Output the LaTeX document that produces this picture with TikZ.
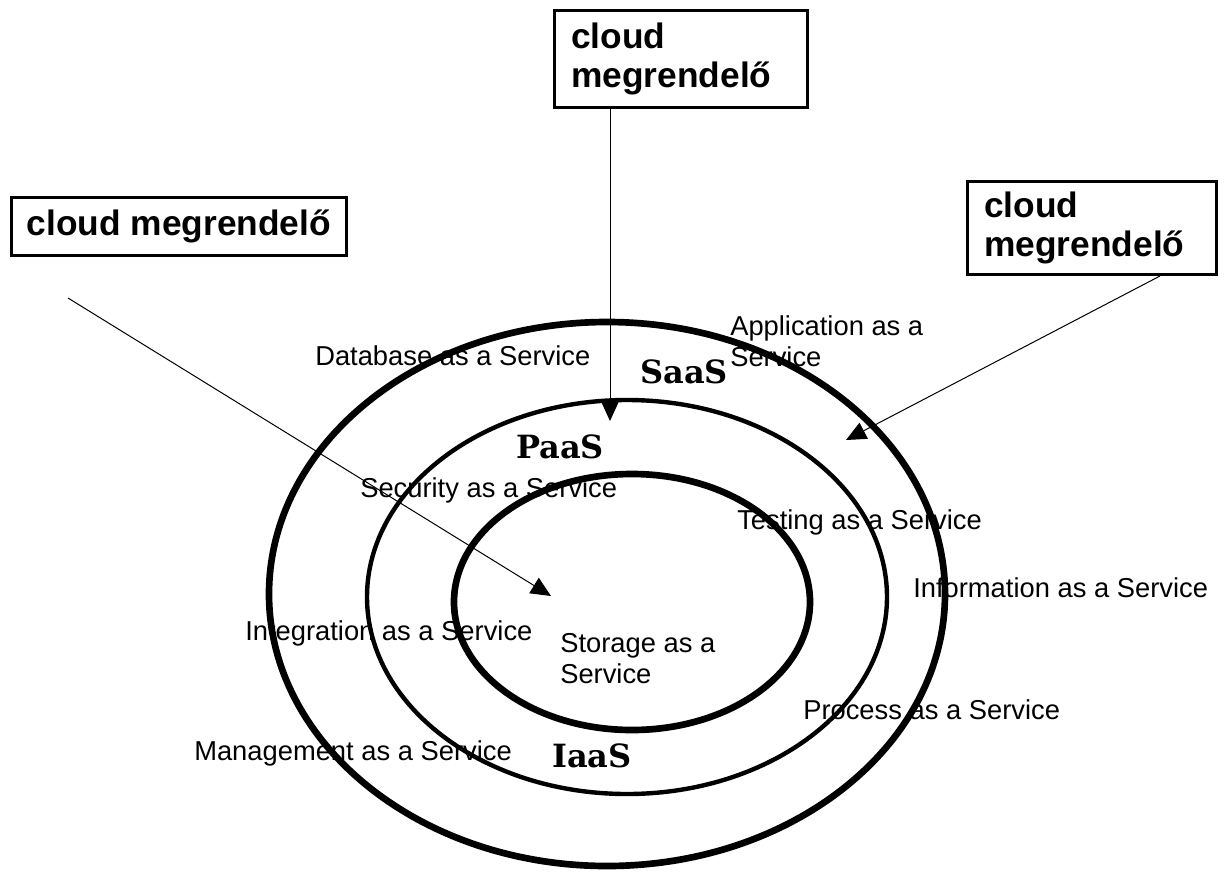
\documentclass[tikz,border=0pt]{standalone}
\usepackage{fontspec}
\setmainfont{Liberation Sans}
\newfontfamily\ringfont{DejaVu Serif}[BoldFont={DejaVu Serif Bold}]
\usetikzlibrary{arrows.meta}
\begin{document}
\begin{tikzpicture}[x=0.75pt,y=-0.75pt,
  box/.style={draw,line width=1.9pt,anchor=north west,align=left,
    font=\fontsize{26.5}{29}\selectfont\bfseries,inner ysep=0pt},
  lbl/.style={anchor=west,align=left,inner sep=0pt,
    font=\fontsize{20.5}{23.25}\selectfont},
  ring/.style={inner sep=0pt,font=\ringfont\bfseries\fontsize{24}{26}\selectfont},
  conn/.style={line width=0.75pt,-{Triangle[width=13.5pt,length=15pt]}},
  thick ring/.style={line width=5pt},
  thin ring/.style={line width=3.3pt}]
\useasboundingbox (0,0) rectangle (1232,872);

% rings
\draw[thick ring] (607,594) ellipse [x radius=338, y radius=272];
\draw[thin ring] (627,597) ellipse [x radius=260, y radius=197];
\draw[thick ring] (632,602) ellipse [x radius=178, y radius=128];

% boxes
\node[box,inner xsep=12.75pt,text width=164.25pt,minimum height=72.75pt] (tbox) at (553,9) {cloud\\megrendelő};
\node[box,align=center,inner xsep=0pt,minimum width=251.25pt,minimum height=43.5pt] (lbox) at (10,196) {cloud megrendelő};
\node[box,inner xsep=12.75pt,text width=161.25pt,minimum height=69.75pt] (rbox) at (966,180) {cloud\\megrendelő};

% service labels
\node[lbl] (db) at (315,356) {Database as a Service};
\node[lbl] (app) at (730,341.5) {Application as a\\Service};
\node[lbl] (sec) at (360,490) {Security as a Service};
\node[lbl] (test) at (737,522) {Testing as a Service};
\node[lbl] (info) at (913,588) {Information as a Service};
\node[lbl] (integ) at (245,633) {Integration  as a Service};
\node[lbl] (stor) at (560,659) {Storage as a\\Service};
\node[lbl] (proc) at (803,710) {Process as a Service};
\node[lbl] (mgmt) at (194,753) {Management as a Service};

% layer labels
\node[ring] (saas) at (684,372) {SaaS};
\node[ring] (paas) at (560,447) {PaaS};
\node[ring] (iaas) at (592,756) {IaaS};

% connectors
\coordinate (thead) at (610,421);
\coordinate (ltail) at (68,298);
\coordinate (lhead) at (551,596);
\coordinate (rtail) at (1160,276);
\coordinate (rhead) at (846,440);
\draw[conn] (thead |- tbox.south) -- (thead);
\draw[conn] (ltail) -- (lhead);
\draw[conn] (rtail) -- (rhead);
\end{tikzpicture}
\end{document}
